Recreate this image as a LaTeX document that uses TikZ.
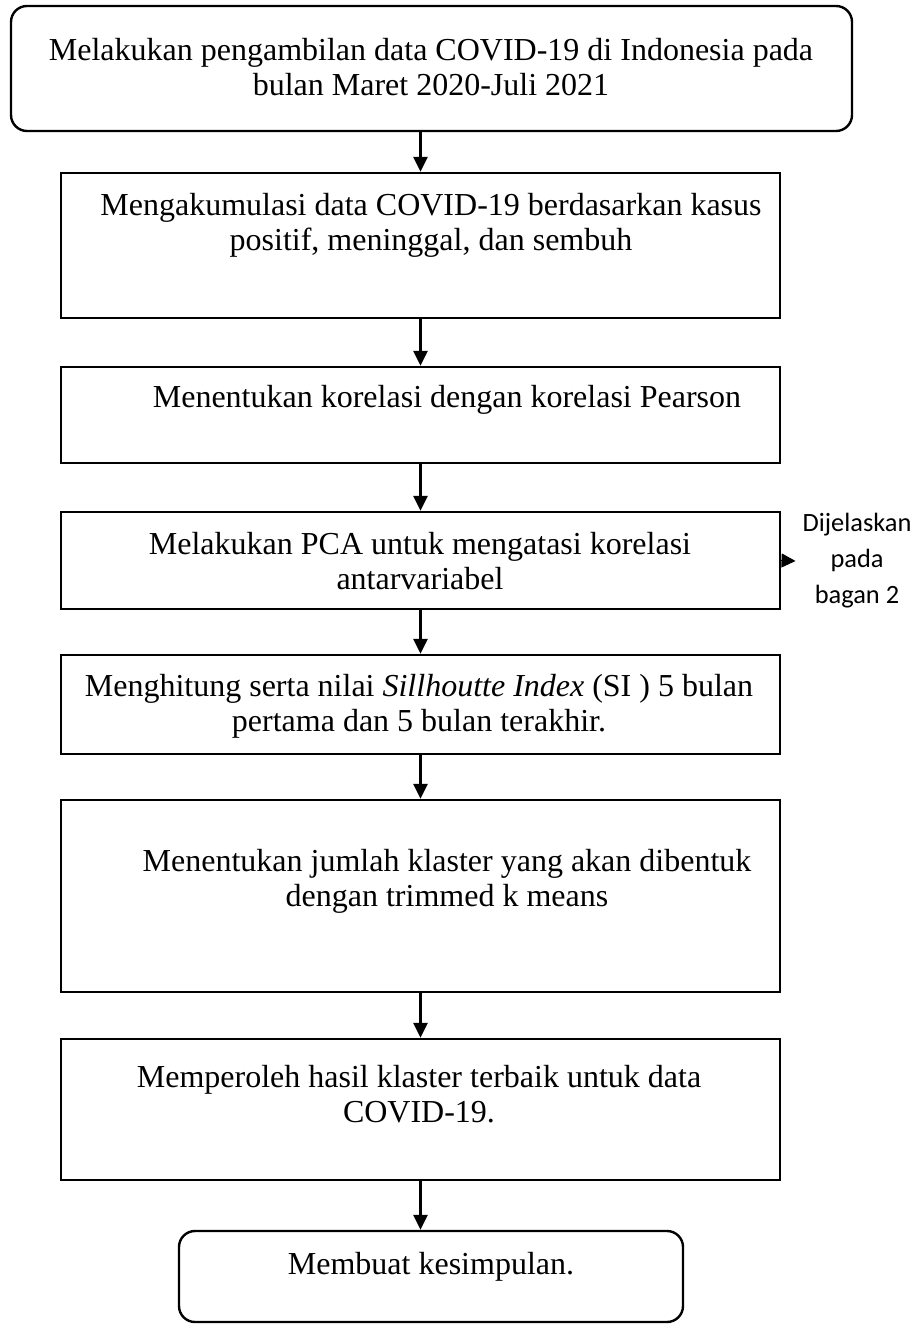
\documentclass[tikz,border=0pt]{standalone}
\usepackage{fontspec}
\setmainfont{Liberation Serif}
\newfontfamily\sidefont{Carlito}
\usetikzlibrary{arrows.meta, positioning}

\begin{document}
\begin{tikzpicture}[x=0.5pt, y=-0.5pt,
		stepbox/.style={draw, line width=1.2pt, minimum width=359.5pt, inner sep=0pt},
		endbox/.style={stepbox, rounded corners=8pt},
		txt/.style={align=center, font=\fontsize{16pt}{17.5pt}\selectfont},
		flow/.style={line width=1.5pt, -{Triangle[length=7.5pt, width=7pt]}}
	]
		\useasboundingbox (0,0) rectangle (920,1325);
		
		% frames
		\node[endbox, minimum width=420.5pt, minimum height=62.5pt] (b1) at (431.5,68.5) {};
		\node[stepbox, minimum height=72.5pt] (b2) at (420.5,245.5) {};
		\node[stepbox, minimum height=48pt] (b3) at (420.5,415) {};
		\node[stepbox, minimum height=48.5pt] (b4) at (420.5,560.5) {};
		\node[stepbox, minimum height=49.5pt] (b5) at (420.5,704.5) {};
		\node[stepbox, minimum height=96pt] (b6) at (420.5,896) {};
		\node[stepbox, minimum height=70.5pt] (b7) at (420.5,1109.5) {};
		\node[endbox, minimum width=252pt, minimum height=45.5pt] (b8) at (431,1276.5) {};
		
		% texts
		\node[txt] (t1) at (431,67) {Melakukan pengambilan data COVID-19 di Indonesia pada\\bulan Maret 2020-Juli 2021};
		\node[txt] (t2) at (431,225) {Mengakumulasi data COVID-19 berdasarkan kasus\\positif, meninggal, dan sembuh};
		\node[txt] (t3) at (447,400) {Menentukan korelasi dengan korelasi Pearson};
		\node[txt] (t4) at (420,561) {Melakukan PCA untuk mengatasi korelasi\\antarvariabel};
		\node[txt] (t5) at (419,706) {Menghitung serta nilai \textit{Sillhoutte Index} (SI ) 5 bulan\\pertama dan 5 bulan terakhir.};
		\node[txt] (t6) at (447,881) {Menentukan jumlah klaster yang akan dibentuk\\dengan trimmed k means};
		\node[txt] (t7) at (419,1094) {Memperoleh hasil klaster terbaik untuk data\\COVID-19.};
		\node[txt] (t8) at (431,1267) {Membuat kesimpulan.};
		\node[align=center, font=\sidefont\fontsize{13.2pt}{18pt}\selectfont] (note) at (857,561) {Dijelaskan\\pada\\bagan 2};
		
		% connectors
		\draw[flow] (b1.south -| b2.north) -- (b2.north);
		\draw[flow] (b2) -- (b3);
		\draw[flow] (b3) -- (b4);
		\draw[flow] (b4) -- (b5);
		\draw[flow] (b5) -- (b6);
		\draw[flow] (b6) -- (b7);
		\draw[flow] (b7.south) -- (b8.north -| b7.south);
		\draw[line width=0.6pt, -{Triangle[length=7pt, width=7pt]}] (b4.east) -- (note.west);
\end{tikzpicture}
\end{document}
